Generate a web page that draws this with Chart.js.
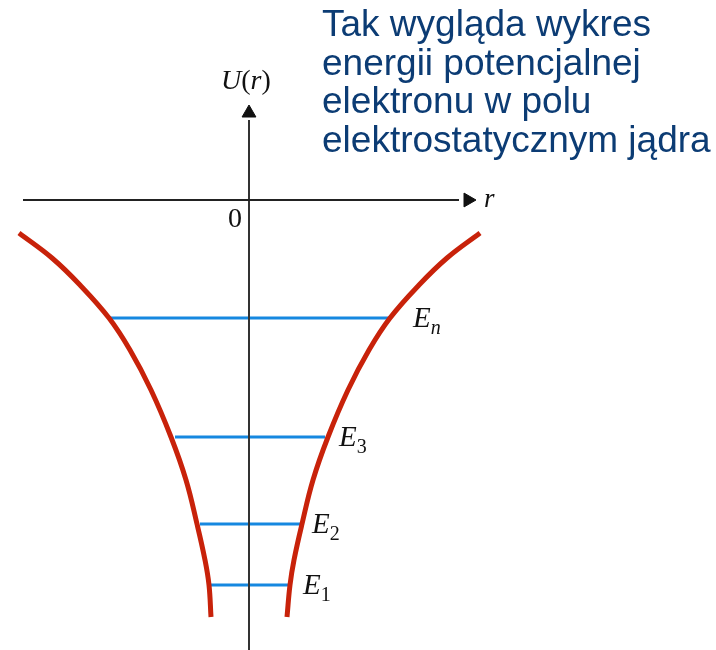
<!DOCTYPE html>
<html>
<head>
    <title>Energia potencjalna elektronu</title>
    <meta charset="utf-8" />
    <script src="https://cdn.jsdelivr.net/npm/chart.js@4.4.1/dist/chart.umd.min.js"></script>
    <style>
        body {
            margin: 0;
            background: #fff;
        }
        #wrap {
            position: relative;
            width: 716px;
            height: 650px;
        }
        #note {
            position: absolute;
            left: 322px;
            top: 5px;
            font-family: "Liberation Sans", Arial, sans-serif;
            font-size: 37px;
            line-height: 38.5px;
            color: #0c3c74;
            white-space: nowrap;
        }
    </style>
</head>
<body>
<div id="wrap">
    <canvas id="chart" width="716" height="650"></canvas>
    <div id="note">Tak wygląda wykres<br>energii potencjalnej<br>elektronu w polu<br>elektrostatycznym jądra</div>
</div>

<script>
    // values (r and U in arbitrary units)
    const uCurve = [-3.3, -5.8, -8.5, -11.8, -15.0, -19.0, -23.7, -28.0, -32.4, -36.0, -38.5, -41.7];
    const rRight = [23.1, 19.8, 17.0, 14.1, 12.0, 9.9, 7.9, 6.4, 5.3, 4.5, 4.1, 3.8];
    const rLeft = [-23.0, -19.7, -16.9, -14.0, -11.9, -9.8, -7.8, -6.3, -5.2, -4.4, -4.0, -3.8];

    const levelU = [-11.8, -23.7, -32.4, -38.5];
    const levelLeft = [-13.9, -7.4, -4.9, -3.9];
    const levelRight = [14.1, 7.6, 5.1, 4.1];
    const levelSub = ['n', '3', '2', '1'];

    const rAxis = [-22.6, 21.0];
    const uAxis = [-45, 8.0];
    const rArrow = 21.9;
    const uArrow = 8.7;

    const toPts = (xs, ys) => xs.map((x, i) => ({x: x, y: ys[i]}));

    const datasets = [];
    // potential curve, two branches
    [rLeft, rRight].forEach(rs => {
        datasets.push({
            data: toPts(rs, uCurve),
            showLine: true,
            borderColor: '#c8220a',
            borderWidth: 5,
            pointRadius: 0,
            tension: 0.4,
            borderCapStyle: 'butt',
            order: 1
        });
    });
    // energy levels
    levelU.forEach((u, i) => {
        datasets.push({
            data: [{x: levelLeft[i], y: u}, {x: levelRight[i], y: u}],
            showLine: true,
            borderColor: '#1688e0',
            borderWidth: 3,
            pointRadius: 0,
            order: 3
        });
    });
    // axes
    datasets.push({
        data: [{x: rAxis[0], y: 0}, {x: rAxis[1], y: 0}],
        showLine: true, borderColor: '#222', borderWidth: 2, pointRadius: 0, order: 2
    });
    datasets.push({
        data: [{x: 0, y: uAxis[0]}, {x: 0, y: uAxis[1]}],
        showLine: true, borderColor: '#333', borderWidth: 2, pointRadius: 0, order: 2
    });
    // arrow heads
    datasets.push({
        data: [{x: rArrow, y: 0}],
        pointStyle: 'triangle', rotation: 90, pointRadius: 8,
        backgroundColor: '#111', borderColor: '#111', borderWidth: 1, order: 2
    });
    datasets.push({
        data: [{x: 0, y: uArrow}],
        pointStyle: 'triangle', rotation: 0, pointRadius: 8,
        backgroundColor: '#111', borderColor: '#111', borderWidth: 1, order: 2
    });

    function drawRuns(ctx, runs, x, y) {
        runs.forEach(run => {
            ctx.font = run[1];
            ctx.fillText(run[0], x, y + (run[2] || 0));
            x += ctx.measureText(run[0]).width;
        });
    }

    const labelPlugin = {
        id: 'labels',
        afterDatasetsDraw(chart) {
            const ctx = chart.ctx;
            const xs = chart.scales.x;
            const ys = chart.scales.y;
            const gap = [23, 14, 12, 13];
            ctx.save();
            ctx.fillStyle = '#111';
            ctx.textBaseline = 'alphabetic';
            const it = 'italic 29px "Liberation Serif", serif';
            const sub = 'italic 20px "Liberation Serif", serif';
            const subUp = '20px "Liberation Serif", serif';
            levelU.forEach((u, i) => {
                const px = xs.getPixelForValue(levelRight[i]) + gap[i];
                const py = ys.getPixelForValue(u);
                const isNum = /\d/.test(levelSub[i]);
                drawRuns(ctx, [['E', it], [levelSub[i], isNum ? subUp : sub, 7]], px, py + 9);
            });
            const ox = xs.getPixelForValue(0);
            const oy = ys.getPixelForValue(0);
            const up = '28px "Liberation Serif", serif';
            const upIt = 'italic 28px "Liberation Serif", serif';
            drawRuns(ctx, [['U', upIt], ['(', up], ['r', upIt], [')', up]], ox - 28, ys.getPixelForValue(uArrow) - 24);
            ctx.font = '28px "Liberation Serif", serif';
            ctx.fillText('0', ox - 21, oy + 27);
            ctx.font = 'italic 27px "Liberation Serif", serif';
            ctx.fillText('r', xs.getPixelForValue(rArrow) + 16, oy + 7);
            ctx.restore();
        }
    };

    new Chart(document.getElementById('chart'), {
        type: 'scatter',
        data: {datasets: datasets},
        options: {
            responsive: false,
            animation: false,
            layout: {padding: 0, autoPadding: false},
            plugins: {
                legend: {display: false},
                tooltip: {enabled: false}
            },
            scales: {
                x: {type: 'linear', min: -24.9, max: 46.7, display: false},
                y: {type: 'linear', min: -45, max: 20, display: false}
            }
        },
        plugins: [labelPlugin]
    });
</script>
</body>
</html>
